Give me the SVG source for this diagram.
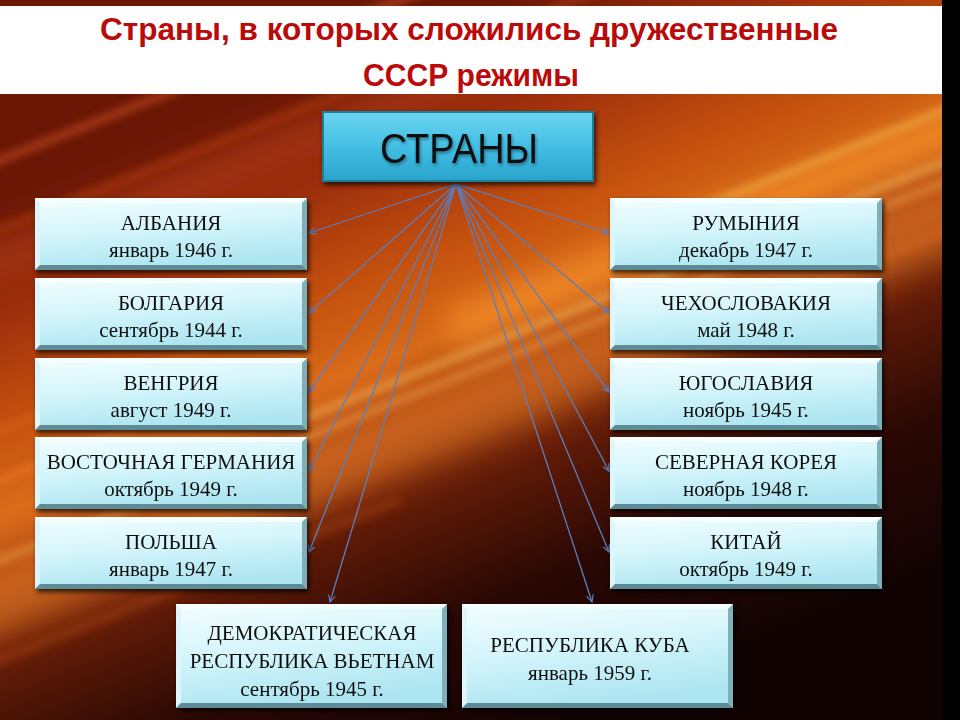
<svg xmlns="http://www.w3.org/2000/svg" width="960" height="720" viewBox="0 0 960 720">
<defs>
<linearGradient id="bg" gradientUnits="userSpaceOnUse" x1="300" y1="80" x2="560" y2="720">
<stop offset="0" stop-color="#6A1706"/>
<stop offset="0.14" stop-color="#9A2C0C"/>
<stop offset="0.3" stop-color="#C4500E"/>
<stop offset="0.42" stop-color="#D66A18"/>
<stop offset="0.52" stop-color="#A8400F"/>
<stop offset="0.64" stop-color="#5E1A07"/>
<stop offset="0.8" stop-color="#2A0804"/>
<stop offset="1" stop-color="#120303"/>
</linearGradient>
<linearGradient id="face" x1="0" y1="0" x2="0.3" y2="1">
<stop offset="0" stop-color="#F4FEFF"/>
<stop offset="0.5" stop-color="#D4F5FB"/>
<stop offset="1" stop-color="#ADE5F1"/>
</linearGradient>
<linearGradient id="cyan" x1="0" y1="0" x2="0" y2="1">
<stop offset="0" stop-color="#6AD4F0"/>
<stop offset="0.5" stop-color="#44BFE4"/>
<stop offset="1" stop-color="#2AA4CC"/>
</linearGradient>
<filter id="shadow" x="-10%" y="-20%" width="125%" height="150%">
<feDropShadow dx="2" dy="3" stdDeviation="2.5" flood-color="#000" flood-opacity="0.75"/>
</filter>
<filter id="blur15" x="-20%" y="-50%" width="140%" height="200%"><feGaussianBlur stdDeviation="14"/></filter>
<filter id="blur4" x="-20%" y="-50%" width="140%" height="200%"><feGaussianBlur stdDeviation="4"/></filter>
<filter id="glow" x="-10%" y="-20%" width="120%" height="140%">
<feDropShadow dx="1" dy="2" stdDeviation="1.5" flood-color="#0A3A50" flood-opacity="0.6"/>
</filter>
<clipPath id="bgclip"><rect x="0" y="0" width="942" height="720"/></clipPath>
<marker id="arr" markerUnits="userSpaceOnUse" markerWidth="10" markerHeight="10" refX="7" refY="4" orient="auto">
<path d="M0,0.5 L7,4 L0,7.5" fill="none" stroke="#5B7FBF" stroke-width="1.2"/>
</marker>
<g id="bevel">
<rect x="0" y="0" width="272" height="72" fill="url(#face)"/>
<polygon points="0,0 272,0 267,5 5,5" fill="#F6FFFF"/>
<polygon points="0,0 5,5 5,67 0,72" fill="#DDF6FB"/>
<polygon points="272,0 272,72 267,67 267,5" fill="#7FAFBA"/>
<polygon points="0,72 272,72 267,67 5,67" fill="#5D8C97"/>
</g>
</defs>
<style>
.t{font-family:"Liberation Serif","Times New Roman",serif;font-size:21px;fill:#111;text-anchor:middle}
.title{font-family:"Liberation Sans",Arial,sans-serif;font-weight:bold;font-size:31px;fill:#BA0A0A;text-anchor:middle}
.con{stroke:#5B7FBF;stroke-width:1.3;fill:none;marker-end:url(#arr)}
</style>

<rect x="0" y="0" width="960" height="720" fill="#000"/>
<g clip-path="url(#bgclip)">
<rect x="0" y="0" width="942" height="720" fill="url(#bg)"/>
<g filter="url(#blur15)">
<line x1="-100" y1="640" x2="1000" y2="200" stroke="#F08A30" stroke-width="60" opacity="0.45"/>
<line x1="450" y1="330" x2="1000" y2="110" stroke="#FF9A30" stroke-width="40" opacity="0.55"/>
<line x1="-100" y1="560" x2="400" y2="360" stroke="#E8702A" stroke-width="30" opacity="0.4"/>
<line x1="-100" y1="300" x2="500" y2="60" stroke="#C8481A" stroke-width="40" opacity="0.35"/>
</g>
<g filter="url(#blur4)">
<line x1="-100" y1="600" x2="1000" y2="160" stroke="#FFC060" stroke-width="6" opacity="0.5"/>
<line x1="300" y1="420" x2="1000" y2="140" stroke="#FFD070" stroke-width="8" opacity="0.45"/>
<line x1="-100" y1="200" x2="600" y2="-80" stroke="#E8602A" stroke-width="8" opacity="0.5"/>
<line x1="-100" y1="270" x2="700" y2="-50" stroke="#D85020" stroke-width="5" opacity="0.5"/>
<line x1="-100" y1="520" x2="300" y2="360" stroke="#FF8A3A" stroke-width="6" opacity="0.5"/>
<line x1="-100" y1="470" x2="250" y2="330" stroke="#F07A30" stroke-width="4" opacity="0.5"/>
<line x1="620" y1="240" x2="1000" y2="88" stroke="#FFD860" stroke-width="5" opacity="0.6"/>
<line x1="700" y1="330" x2="1000" y2="210" stroke="#E86A20" stroke-width="6" opacity="0.5"/>
<line x1="-100" y1="700" x2="400" y2="500" stroke="#C0501A" stroke-width="8" opacity="0.35"/>
</g>
</g>

<rect x="0" y="6" width="942" height="88" fill="#FFFFFF"/>
<text class="title" x="469" y="40" textLength="738" lengthAdjust="spacingAndGlyphs">Страны, в которых сложились дружественные</text>
<text class="title" x="471" y="86" textLength="216" lengthAdjust="spacingAndGlyphs">СССР режимы</text>

<g id="connectors">
<line class="con" x1="456" y1="184" x2="309" y2="233"/>
<line class="con" x1="456" y1="184" x2="309" y2="313"/>
<line class="con" x1="456" y1="184" x2="309" y2="392"/>
<line class="con" x1="456" y1="184" x2="309" y2="471"/>
<line class="con" x1="456" y1="184" x2="309" y2="552"/>
<line class="con" x1="456" y1="184" x2="330" y2="602"/>
<line class="con" x1="456" y1="184" x2="592" y2="602"/>
<line class="con" x1="456" y1="184" x2="609" y2="233"/>
<line class="con" x1="456" y1="184" x2="609" y2="313"/>
<line class="con" x1="456" y1="184" x2="609" y2="392"/>
<line class="con" x1="456" y1="184" x2="609" y2="471"/>
<line class="con" x1="456" y1="184" x2="609" y2="552"/>
</g>

<g id="root" filter="url(#shadow)">
<rect x="322" y="111" width="272" height="71" fill="#1E7E98"/>
<rect x="324" y="113" width="268" height="67" fill="url(#cyan)"/>
<text x="459" y="163" font-family="Liberation Sans, Arial, sans-serif" font-size="42" fill="#111" text-anchor="middle" textLength="158" lengthAdjust="spacingAndGlyphs" filter="url(#glow)">СТРАНЫ</text>
</g>

<g id="albania" filter="url(#shadow)"><use href="#bevel" x="35" y="198"/>
<text class="t" x="171" y="230">АЛБАНИЯ</text><text class="t" x="171" y="257">январь 1946 г.</text></g>
<g id="bulgaria" filter="url(#shadow)"><use href="#bevel" x="35" y="278"/>
<text class="t" x="171" y="310">БОЛГАРИЯ</text><text class="t" x="171" y="337">сентябрь 1944 г.</text></g>
<g id="hungary" filter="url(#shadow)"><use href="#bevel" x="35" y="358"/>
<text class="t" x="171" y="390">ВЕНГРИЯ</text><text class="t" x="171" y="417">август 1949 г.</text></g>
<g id="gdr" filter="url(#shadow)"><use href="#bevel" x="35" y="437"/>
<text class="t" x="171" y="469">ВОСТОЧНАЯ ГЕРМАНИЯ</text><text class="t" x="171" y="496">октябрь 1949 г.</text></g>
<g id="poland" filter="url(#shadow)"><use href="#bevel" x="35" y="517"/>
<text class="t" x="171" y="549">ПОЛЬША</text><text class="t" x="171" y="576">январь 1947 г.</text></g>

<g id="romania" filter="url(#shadow)"><use href="#bevel" x="610" y="198"/>
<text class="t" x="746" y="230">РУМЫНИЯ</text><text class="t" x="746" y="257">декабрь 1947 г.</text></g>
<g id="czechoslovakia" filter="url(#shadow)"><use href="#bevel" x="610" y="278"/>
<text class="t" x="746" y="310">ЧЕХОСЛОВАКИЯ</text><text class="t" x="746" y="337">май 1948 г.</text></g>
<g id="yugoslavia" filter="url(#shadow)"><use href="#bevel" x="610" y="358"/>
<text class="t" x="746" y="390">ЮГОСЛАВИЯ</text><text class="t" x="746" y="417">ноябрь 1945 г.</text></g>
<g id="northkorea" filter="url(#shadow)"><use href="#bevel" x="610" y="437"/>
<text class="t" x="746" y="469">СЕВЕРНАЯ КОРЕЯ</text><text class="t" x="746" y="496">ноябрь 1948 г.</text></g>
<g id="china" filter="url(#shadow)"><use href="#bevel" x="610" y="517"/>
<text class="t" x="746" y="549">КИТАЙ</text><text class="t" x="746" y="576">октябрь 1949 г.</text></g>

<g id="vietnam" filter="url(#shadow)">
<rect x="176" y="604" width="271" height="104" fill="url(#face)"/>
<polygon points="176,604 447,604 442,609 181,609" fill="#F6FFFF"/>
<polygon points="176,604 181,609 181,703 176,708" fill="#DDF6FB"/>
<polygon points="447,604 447,708 442,703 442,609" fill="#7FAFBA"/>
<polygon points="176,708 447,708 442,703 181,703" fill="#5D8C97"/>
<text class="t" x="312" y="640">ДЕМОКРАТИЧЕСКАЯ</text>
<text class="t" x="312" y="668">РЕСПУБЛИКА ВЬЕТНАМ</text>
<text class="t" x="312" y="696">сентябрь 1945 г.</text>
</g>
<g id="cuba" filter="url(#shadow)">
<rect x="462" y="604" width="271" height="104" fill="url(#face)"/>
<polygon points="462,604 733,604 728,609 467,609" fill="#F6FFFF"/>
<polygon points="462,604 467,609 467,703 462,708" fill="#DDF6FB"/>
<polygon points="733,604 733,708 728,703 728,609" fill="#7FAFBA"/>
<polygon points="462,708 733,708 728,703 467,703" fill="#5D8C97"/>
<text class="t" x="590" y="652">РЕСПУБЛИКА КУБА</text>
<text class="t" x="590" y="680">январь 1959 г.</text>
</g>
</svg>
